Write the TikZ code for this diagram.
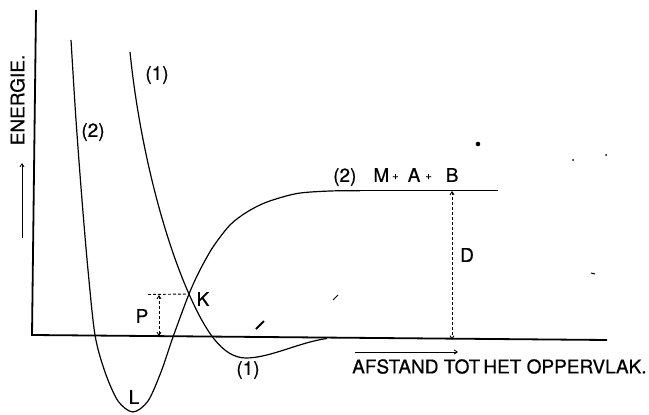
\documentclass[tikz,border=0pt]{standalone}
\usepackage{fontspec}
\setmainfont{TeX Gyre Heros}
\newfontfamily\labfont{TeX Gyre Heros}[FakeBold=0.6]
\usetikzlibrary{arrows.meta}
\newcommand{\smallplus}{\raisebox{2.5pt}{\fontsize{11}{12}\selectfont+}}
\begin{document}
\begin{tikzpicture}[x=1pt,y=-1pt,
  axis/.style={line width=1.8pt},
  curve/.style={line width=1.2pt},
  dim/.style={line width=0.9pt, dash pattern=on 3pt off 2pt},
  tipb/.style={{Straight Barb[length=3pt,width=4pt]}-{Straight Barb[length=3pt,width=4pt]}},
  tipe/.style={-{Straight Barb[length=3pt,width=4pt]}},
  lbl/.style={inner sep=0pt, font=\labfont\fontsize{19}{21}\selectfont},
  speck/.style={line width=1pt}
]
\useasboundingbox (0,0) rectangle (649,415);

% key coordinates
\coordinate (O) at (32,335);
\coordinate (Ytop) at (36,10);
\coordinate (Xend) at (607,340);
\coordinate (K) at (189,294);
\coordinate (Kleft) at (148,294.5);
\coordinate (Ptop) at (159,295);
\coordinate (Pbot) at (159,336);
\coordinate (PlatStart) at (360,190.7);
\coordinate (PlatEnd) at (498,190.7);
\coordinate (Dtop) at (452,191);
\coordinate (Dbot) at (452,339.5);
\coordinate (Ea) at (22,238);
\coordinate (Eb) at (22,163);
\coordinate (Aa) at (355,352);
\coordinate (Ab) at (458,352);
\coordinate (C1top) at (130,52);
\coordinate (C1min) at (246,358);
\coordinate (C1end) at (327,338.5);

% axes
\draw[axis] (Ytop) -- (O) -- (Xend);

% curve (1)
\draw[curve] (C1top) .. controls (140,150) and (165,240) .. (K)
  .. controls (205,330) and (222,358) .. (C1min)
  .. controls (270,358) and (300,342) .. (C1end);

% curve (2)
\draw[curve] plot[smooth,tension=0.5] coordinates {(71,40) (76,120) (82,200) (88,270) (95,335) (105,372) (118,401) (133,412) (148,401) (161,372) (173,337) (189,294) (200,270) (213,247) (230,225) (247,212) (267,202) (297,193.5) (330,191) (360,190.7)};
\draw[curve] (PlatStart) -- (PlatEnd);

% dimension lines
\draw[dim] (Kleft) -- (K);
\draw[dim,tipb] (Ptop) -- (Pbot);
\draw[dim,tipb] (Dtop) -- (Dbot);

% axis arrows
\draw[line width=0.9pt,tipe] (Ea) -- (Eb);
\draw[line width=0.9pt,tipe] (Aa) -- (Ab);

% labels
\node[lbl,rotate=90] (energie) at (17.5,100) {ENERGIE.};
\node[lbl] (l2) at (93,132) {(2)};
\node[lbl] (l1a) at (157,75) {(1)};
\node[lbl] (l1b) at (248,370) {(1)};
\node[lbl] (lK) at (203,299) {K};
\node[lbl] (lP) at (142,316) {P};
\node[lbl] (lL) at (134,397) {L};
\node[lbl] (lD) at (467,255) {D};
\node[lbl,anchor=west] (lMAB) at (333,177) {(2)\hspace{17pt}M\hspace{3pt}\smallplus\hspace{9pt}A\hspace{5pt}\smallplus\hspace{14pt}B};
\node[lbl,anchor=west] (lAf) at (352,366.5) {AFSTAND TOT\,HET OPPERVLAK.};

% scan specks
\fill (478,144) circle (2.3pt);
\fill (573,160) circle (1pt);
\fill (606,155) circle (1pt);
\draw[speck] (591,273) -- (595,274);
\draw[speck] (333,300) -- (338,295);
\draw[line width=2pt] (256,329) -- (264,321);
\end{tikzpicture}
\end{document}
